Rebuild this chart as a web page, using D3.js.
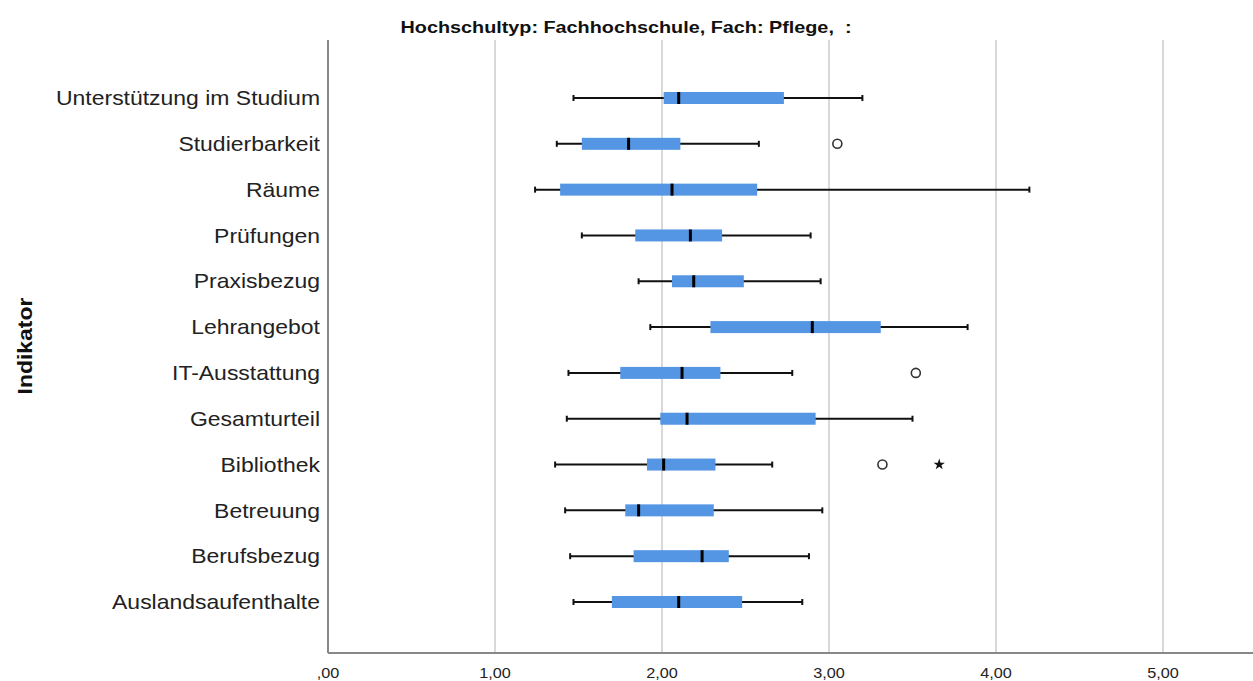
<!DOCTYPE html>
<html>
<head>
<meta charset="utf-8">
<script src="https://cdn.jsdelivr.net/npm/d3@7"></script>
<style>
    body { margin: 0; background: #fff; }
    svg { display: block; font-family: "Liberation Sans", Arial, sans-serif; }
</style>
</head>
<body>
<div id="chart"></div>
<script>
const categories = ["Unterstützung im Studium", "Studierbarkeit", "Räume", "Prüfungen", "Praxisbezug", "Lehrangebot",
    "IT-Ausstattung", "Gesamturteil", "Bibliothek", "Betreuung", "Berufsbezug", "Auslandsaufenthalte"];
const whiskerLow = [1.47, 1.37, 1.24, 1.52, 1.86, 1.93, 1.44, 1.43, 1.36, 1.42, 1.45, 1.47];
const q1 = [2.01, 1.52, 1.39, 1.84, 2.06, 2.29, 1.75, 1.99, 1.91, 1.78, 1.83, 1.70];
const median = [2.10, 1.80, 2.06, 2.17, 2.19, 2.90, 2.12, 2.15, 2.01, 1.86, 2.24, 2.10];
const q3 = [2.73, 2.11, 2.57, 2.36, 2.49, 3.31, 2.35, 2.92, 2.32, 2.31, 2.40, 2.48];
const whiskerHigh = [3.20, 2.58, 4.20, 2.89, 2.95, 3.83, 2.78, 3.50, 2.66, 2.96, 2.88, 2.84];
// outliers: [category, value, type]
const outliers = [["Studierbarkeit", 3.05, "o"], ["IT-Ausstattung", 3.52, "o"], ["Bibliothek", 3.32, "o"], ["Bibliothek", 3.66, "*"]];
const xTicks = [0, 1, 2, 3, 4, 5];
const title = "Hochschultyp: Fachhochschule, Fach: Pflege,  :";
const yTitle = "Indikator";

const W = 1253, H = 681;
const plot = { left: 328, right: 1253, top: 40, bottom: 653 };
const stretch = 1.12; // labels are drawn a bit wider than the font

const svg = d3.select("#chart").append("svg")
    .attr("width", W)
    .attr("height", H);

const x = d3.scaleLinear().domain([0, 5.539]).range([plot.left, plot.right]);
const y = d3.scalePoint().domain(categories).range([98, 602]);

// vertical gridlines
svg.selectAll(".grid")
    .data(xTicks.filter(d => d > 0))
    .join("line")
    .attr("x1", d => x(d)).attr("x2", d => x(d))
    .attr("y1", plot.top).attr("y2", plot.bottom)
    .attr("stroke", "#cccccc")
    .attr("stroke-width", 1.5);

// axes lines
svg.append("line")
    .attr("x1", plot.left).attr("x2", plot.left)
    .attr("y1", plot.top).attr("y2", plot.bottom)
    .attr("stroke", "#888").attr("stroke-width", 2);
svg.append("line")
    .attr("x1", plot.left).attr("x2", plot.right)
    .attr("y1", plot.bottom).attr("y2", plot.bottom)
    .attr("stroke", "#888").attr("stroke-width", 2);

// x tick labels
svg.selectAll(".xlab")
    .data(xTicks)
    .join("text")
    .attr("transform", d => `translate(${x(d)}, 678) scale(${stretch}, 1)`)
    .attr("text-anchor", "middle")
    .attr("font-size", 14.5)
    .attr("fill", "#222")
    .text(d => d === 0 ? ",00" : d3.format(".2f")(d).replace(".", ","));

// category labels
svg.selectAll(".ylab")
    .data(categories)
    .join("text")
    .attr("transform", d => `translate(320, ${y(d)}) scale(${stretch}, 1)`)
    .attr("dy", "0.35em")
    .attr("text-anchor", "end")
    .attr("font-size", 20.5)
    .attr("fill", "#222")
    .text(d => d);

// title (keeps the double space)
svg.append("text")
    .attr("transform", "translate(626, 33) scale(1.2, 1)")
    .attr("text-anchor", "middle")
    .attr("font-size", 16.5)
    .attr("font-weight", "bold")
    .attr("fill", "#111")
    .style("white-space", "pre")
    .text(title);

svg.append("text")
    .attr("transform", `translate(32, 346) rotate(-90) scale(${stretch}, 1)`)
    .attr("text-anchor", "middle")
    .attr("font-size", 20.5)
    .attr("font-weight", "bold")
    .attr("fill", "#111")
    .text(yTitle);

const boxH = 12;
const rows = categories.map((c, i) => ({ c, lo: whiskerLow[i], q1: q1[i], med: median[i], q3: q3[i], hi: whiskerHigh[i] }));

const g = svg.selectAll(".box").data(rows).join("g");

g.append("line")
    .attr("x1", d => x(d.lo)).attr("x2", d => x(d.hi))
    .attr("y1", d => y(d.c)).attr("y2", d => y(d.c))
    .attr("stroke", "#111").attr("stroke-width", 2);

g.append("line")
    .attr("x1", d => x(d.lo)).attr("x2", d => x(d.lo))
    .attr("y1", d => y(d.c) - 3).attr("y2", d => y(d.c) + 3)
    .attr("stroke", "#111").attr("stroke-width", 2);
g.append("line")
    .attr("x1", d => x(d.hi)).attr("x2", d => x(d.hi))
    .attr("y1", d => y(d.c) - 3).attr("y2", d => y(d.c) + 3)
    .attr("stroke", "#111").attr("stroke-width", 2);

g.append("rect")
    .attr("x", d => x(d.q1))
    .attr("width", d => x(d.q3) - x(d.q1))
    .attr("y", d => y(d.c) - boxH / 2)
    .attr("height", boxH)
    .attr("fill", "#5496e3");

g.append("rect")
    .attr("x", d => x(d.med) - 1.5)
    .attr("width", 3)
    .attr("y", d => y(d.c) - boxH / 2)
    .attr("height", boxH)
    .attr("fill", "#000");

svg.selectAll(".outl")
    .data(outliers.filter(d => d[2] === "o"))
    .join("circle")
    .attr("cx", d => x(d[1]))
    .attr("cy", d => y(d[0]))
    .attr("r", 4.5)
    .attr("fill", "none")
    .attr("stroke", "#333")
    .attr("stroke-width", 1.6);

svg.selectAll(".star")
    .data(outliers.filter(d => d[2] === "*"))
    .join("path")
    .attr("transform", d => `translate(${x(d[1])}, ${y(d[0])})`)
    .attr("d", d3.symbol(d3.symbolStar, 40))
    .attr("fill", "#111");
</script>
</body>
</html>
